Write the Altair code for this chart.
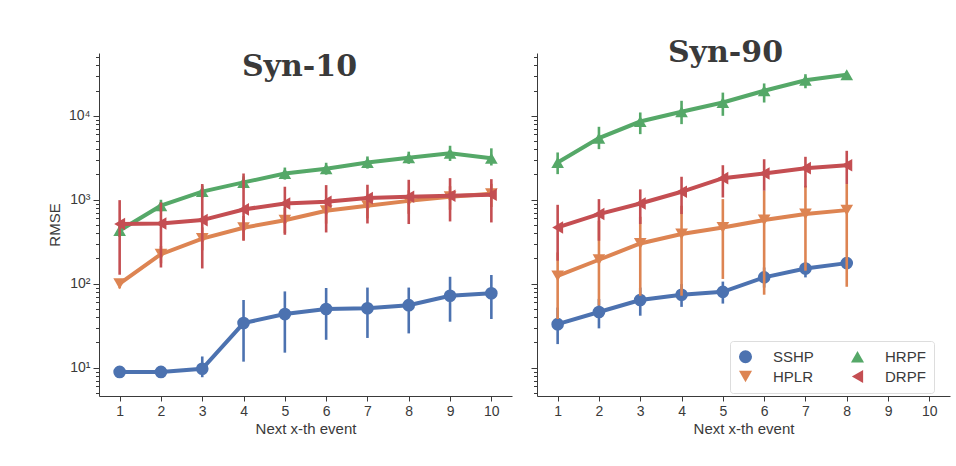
import altair as alt
import pandas as pd

methods = ["SSHP", "HPLR", "HRPF", "DRPF"]
colors = {"SSHP": "#4C72B0", "HPLR": "#DD8452", "HRPF": "#55A868", "DRPF": "#C44E52"}
shapes = {"SSHP": "circle", "HPLR": "triangle-down", "HRPF": "triangle-up", "DRPF": "triangle-left"}

x_ticks = [1, 2, 3, 4, 5, 6, 7, 8, 9, 10]
y_major = [10, 100, 1000, 10000]
y_major_labels = ["10\u00b9", "10\u00b2", "10\u00b3", "10\u2074"]
y_minor = [5, 6, 7, 8, 9, 20, 30, 40, 50, 60, 70, 80, 90, 200, 300, 400, 500, 600, 700,
           800, 900, 2000, 3000, 4000, 5000, 6000, 7000, 8000, 9000, 20000, 30000, 40000, 50000]

# ---- Syn-10 ----
syn10_events = [1, 2, 3, 4, 5, 6, 7, 8, 9, 10]
syn10_sshp = [8.9, 8.9, 9.7, 34, 43.5, 50, 51, 55.5, 72, 77]
syn10_sshp_lo = [8.4, 8.4, 7.7, 11.8, 15.1, 21.5, 22.6, 25.6, 35.3, 38]
syn10_sshp_hi = [9.4, 9.4, 13.6, 64, 81, 89, 90, 90, 121, 127]
syn10_hplr = [100, 225, 345, 465, 570, 740, 850, 970, 1085, 1180]
syn10_hplr_lo = [88, 175, 250, 330, 400, 520, 600, 680, 760, 820]
syn10_hplr_hi = [112, 280, 470, 640, 800, 1000, 1150, 1300, 1450, 1550]
syn10_hrpf = [430, 850, 1250, 1610, 2050, 2340, 2780, 3170, 3580, 3130]
syn10_hrpf_lo = [360, 720, 1060, 1360, 1740, 1990, 2350, 2680, 2900, 2560]
syn10_hrpf_hi = [510, 1000, 1480, 1900, 2420, 2760, 3280, 3740, 4400, 4100]
syn10_drpf = [514, 522, 573, 767, 904, 946, 1047, 1087, 1117, 1148]
syn10_drpf_lo = [128, 156, 152, 325, 383, 408, 522, 514, 552, 537]
syn10_drpf_hi = [990, 929, 1540, 2056, 1430, 1495, 1510, 1730, 1810, 1760]

# ---- Syn-90 ----
syn90_events = [1, 2, 3, 4, 5, 6, 7, 8]
syn90_sshp = [33, 46, 64, 74, 80, 119, 152, 176]
syn90_sshp_lo = [19.1, 29.4, 41.6, 53, 58, 90, 119, 160]
syn90_sshp_hi = [52, 66, 90, 99, 106, 156, 179, 195]
syn90_hplr = [124, 193, 302, 391, 468, 573, 676, 753]
syn90_hplr_lo = [38, 55, 72, 72, 114, 74, 143, 92]
syn90_hplr_hi = [236, 563, 628, 849, 1018, 1280, 1470, 1540]
syn90_hrpf = [2780, 5420, 8550, 11170, 14400, 19860, 26500, 30770]
syn90_hrpf_lo = [2020, 4010, 6050, 7960, 10000, 14400, 21300, 28000]
syn90_hrpf_hi = [3660, 7400, 10960, 15100, 18900, 24300, 31300, 33500]
syn90_drpf = [468, 676, 904, 1245, 1810, 2056, 2380, 2580]
syn90_drpf_lo = [188, 325, 514, 676, 1064, 1280, 1400, 1540]
syn90_drpf_hi = [871, 1018, 1330, 1880, 2580, 3040, 3250, 3830]


def build(events, series):
    rows = []
    for m in methods:
        vals, lo, hi = series[m]
        for e, v, a, b in zip(events, vals, lo, hi):
            rows.append({"event": e, "rmse": v, "lo": a, "hi": b, "method": m})
    return pd.DataFrame(rows)


df10 = build(syn10_events, {
    "SSHP": (syn10_sshp, syn10_sshp_lo, syn10_sshp_hi),
    "HPLR": (syn10_hplr, syn10_hplr_lo, syn10_hplr_hi),
    "HRPF": (syn10_hrpf, syn10_hrpf_lo, syn10_hrpf_hi),
    "DRPF": (syn10_drpf, syn10_drpf_lo, syn10_drpf_hi),
})
df90 = build(syn90_events, {
    "SSHP": (syn90_sshp, syn90_sshp_lo, syn90_sshp_hi),
    "HPLR": (syn90_hplr, syn90_hplr_lo, syn90_hplr_hi),
    "HRPF": (syn90_hrpf, syn90_hrpf_lo, syn90_hrpf_hi),
    "DRPF": (syn90_drpf, syn90_drpf_lo, syn90_drpf_hi),
})

label_expr = " : ".join(
    f"datum.value == {v} ? '{t}'" for v, t in zip(y_major, y_major_labels)
) + " : ''"
major_test = " || ".join(f"datum.value == {v}" for v in y_major)

AX_COL = "#3a3a3a"
FONT = "Liberation Sans"


def panel(df, title, show_labels, show_legend, tdx, tdy):
    xscale = alt.Scale(domain=[0.5, 10.5], nice=False, zero=False)
    yscale = alt.Scale(type="log", domain=[4.6, 56000], nice=False)
    xaxis = alt.Axis(values=x_ticks, title="Next x-th event", grid=False, tickSize=5,
                     labelFontSize=14, titleFontSize=15, labelFont=FONT, titleFont=FONT,
                     titleFontWeight="normal", labelPadding=3, titlePadding=3,
                     domainColor=AX_COL, tickColor=AX_COL, labelColor=AX_COL, titleColor=AX_COL)
    yaxis = alt.Axis(values=sorted(y_major + y_minor), grid=False,
                     labelExpr=label_expr if show_labels else "''",
                     title="RMSE" if show_labels else None,
                     tickSize={"condition": {"test": major_test, "value": 6}, "value": 3.5},
                     labelFontSize=14, titleFontSize=15, labelFont=FONT, titleFont=FONT,
                     titleFontWeight="normal", labelPadding=3, titlePadding=6,
                     domainColor=AX_COL, tickColor=AX_COL, labelColor=AX_COL, titleColor=AX_COL)
    if show_legend:
        leg = alt.Legend(title=None, orient="none", legendX=193, legendY=288, columns=2,
                         fillColor="white", strokeColor="#dddddd", cornerRadius=3, padding=8,
                         symbolSize=170, symbolStrokeWidth=0, labelFontSize=15, labelFont=FONT,
                         labelColor=AX_COL, labelOffset=20, columnPadding=36, rowPadding=4)
    else:
        leg = None
    color = alt.Color("method:N", scale=alt.Scale(domain=methods,
                                                  range=[colors[m] for m in methods]),
                      legend=leg)
    shape = alt.Shape("method:N", scale=alt.Scale(domain=methods,
                                                  range=[shapes[m] for m in methods]),
                      legend=leg)
    layers = []
    for m in methods:
        base = alt.Chart(df).transform_filter(alt.datum.method == m)
        line = base.mark_line(strokeWidth=4).encode(
            x=alt.X("event:Q", scale=xscale, axis=xaxis),
            y=alt.Y("rmse:Q", scale=yscale, axis=yaxis),
            color=color)
        rule = base.mark_rule(strokeWidth=2.6).encode(
            x="event:Q", y="lo:Q", y2="hi:Q", color=color)
        pts = base.mark_point(filled=True, size=160, opacity=1).encode(
            x="event:Q", y="rmse:Q", color=color, shape=shape)
        layers += [line, rule, pts]
    return alt.layer(*layers).properties(
        width=413, height=343,
        title=alt.TitleParams(title, font="DejaVu Serif", fontSize=30, fontWeight="bold",
                              color="#3a3a3a", anchor="middle", offset=0, dx=tdx, dy=tdy))


left = panel(df10, "Syn-10", True, False, -6, 29)
right = panel(df90, "Syn-90", False, True, -18, 18)

chart = alt.hconcat(left, right, spacing=16).resolve_scale(
    color="independent", shape="independent").resolve_legend(
    color="independent", shape="independent").configure_view(stroke=None).properties(
    padding={"left": 47, "top": 38, "right": 5, "bottom": 5}, background="white")

chart.save("out.html", embed_options={"renderer": "svg", "actions": False})
